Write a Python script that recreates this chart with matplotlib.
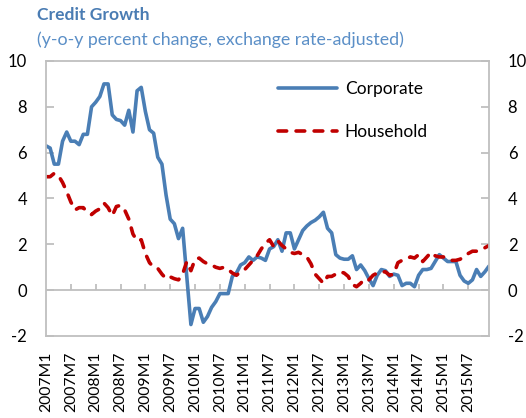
import matplotlib
matplotlib.use("Agg")
import matplotlib.pyplot as plt
import numpy as np

plt.rcParams['font.family'] = ['Lato', 'DejaVu Sans']

years = list(range(2007, 2016))
months = [f"{y}M{m}" for y in years for m in range(1, 13)]

corporate = [6.3, 6.2, 5.5, 5.5, 6.5, 6.9, 6.5, 6.5, 6.35, 6.8, 6.8, 8.0,
             8.2, 8.45, 9.0, 9.0, 7.65, 7.45, 7.4, 7.2, 7.85, 6.9, 8.7, 8.85,
             7.8, 7.0, 6.85, 5.8, 5.5, 4.15, 3.1, 2.9, 2.25, 2.7, 0.6, -1.5,
             -0.8, -0.8, -1.4, -1.15, -0.75, -0.5, -0.15, -0.15, -0.15, 0.6, 0.75, 1.1,
             1.2, 1.45, 1.3, 1.45, 1.4, 1.3, 1.8, 1.9, 2.2, 1.7, 2.5, 2.5,
             1.8, 2.2, 2.6, 2.8, 2.95, 3.05, 3.2, 3.4, 2.7, 2.5, 1.55, 1.4,
             1.35, 1.35, 1.5, 0.9, 1.1, 0.85, 0.5, 0.2, 0.65, 0.9, 0.85, 0.6,
             0.7, 0.65, 0.2, 0.3, 0.3, 0.15, 0.65, 0.9, 0.9, 0.95, 1.25, 1.55,
             1.4, 1.25, 1.25, 1.25, 0.65, 0.4, 0.3, 0.45, 0.9, 0.6, 0.8, 1.05]

household = [4.95, 4.95, 5.1, 5.0, 4.7, 4.3, 3.85, 3.5, 3.6, 3.6, 3.4, 3.3,
             3.45, 3.55, 3.8, 3.6, 3.25, 3.65, 3.7, 3.5, 3.1, 2.45, 2.15, 2.2,
             1.6, 1.2, 1.0, 0.95, 0.7, 0.5, 0.58, 0.5, 0.45, 0.7, 1.25, 0.85,
             1.35, 1.4, 1.25, 1.15, 1.1, 1.0, 0.95, 1.0, 0.9, 0.75, 0.65, 0.8,
             0.9, 1.1, 1.3, 1.5, 1.8, 2.05, 2.2, 1.9, 2.15, 1.95, 1.8, 1.65,
             1.6, 1.65, 1.55, 1.45, 1.15, 0.7, 0.5, 0.3, 0.6, 0.6, 0.7, 0.8,
             0.75, 0.6, 0.25, 0.15, 0.3, 0.5, 0.45, 0.65, 0.75, 0.8, 0.8, 0.65,
             0.7, 1.2, 1.3, 1.35, 1.45, 1.4, 1.55, 1.25, 1.45, 1.65, 1.5, 1.45,
             1.45, 1.35, 1.3, 1.3, 1.35, 1.45, 1.6, 1.7, 1.7, 1.75, 1.85, 1.95]

yticks = [-2, 0, 2, 4, 6, 8, 10]
title = "Credit Growth"
subtitle = "(y-o-y percent change, exchange rate-adjusted)"

BLUE = "#4A7EB5"
RED = "#C00000"
GREY = "#BFBFBF"

fig = plt.figure(figsize=(5.26, 4.18), dpi=100)
ax = fig.add_axes([46/526, (418-336)/418, (489-46)/526, (336-61)/418])

x = np.arange(len(months))
ax.plot(x, corporate, color=BLUE, lw=2.6, solid_capstyle='round', solid_joinstyle='round', label="Corporate")
ax.plot(x, household, color=RED, lw=2.6, dashes=(2.4, 2.6), dash_capstyle='round', label="Household")

ax.set_xlim(0, len(months) - 1)
ax.set_ylim(-2, 10)

for s in ax.spines.values():
    s.set_color(GREY)
    s.set_linewidth(1.3)
ax.axhline(0, color=GREY, lw=1.3, zorder=1)

tick_idx = x[::6]
ax.vlines(tick_idx[1:], 0, 0.27, color=GREY, lw=1.3, zorder=1)
ax.set_xticks(tick_idx)
ax.set_xticklabels([months[i] for i in tick_idx], rotation=90, fontsize=11.3)
ax.tick_params(axis='x', length=0, pad=11)

ax.set_yticks(yticks)
ax.set_yticklabels([str(v) for v in yticks], fontsize=12)
ax.tick_params(axis='y', direction='in', length=6, width=1.3, color=GREY, pad=13.5,
               left=True, right=True, labelleft=True, labelright=True)

fig.text(37/526, 1 - 15/418, title, fontsize=12.6, fontweight='bold', color="#4A7CB3", va='center', ha='left')
fig.text(37/526, 1 - 40/418, subtitle, fontsize=12.8, color="#5B8FC7", va='center', ha='left')

leg = ax.legend(loc='upper left', bbox_to_anchor=(278/526, 1 - 81/418), bbox_transform=fig.transFigure,
                frameon=False, fontsize=12.5, handlelength=3.4, handletextpad=0.45,
                labelspacing=1.55, borderpad=0, borderaxespad=0)

fig.savefig("out.png", dpi=100)
